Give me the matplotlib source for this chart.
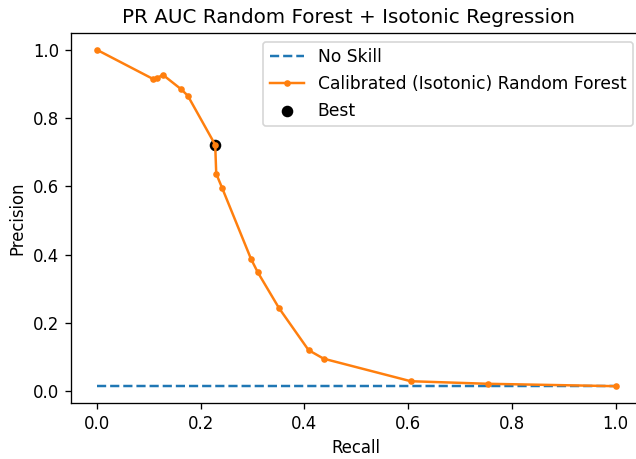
import matplotlib
matplotlib.use("Agg")
import matplotlib.pyplot as plt

recall = [0.0, 0.109, 0.116, 0.127, 0.162, 0.175, 0.228, 0.230, 0.241, 0.297, 0.310, 0.351, 0.408, 0.437, 0.605, 0.754, 1.0]
precision = [1.0, 0.914, 0.917, 0.927, 0.885, 0.866, 0.722, 0.637, 0.597, 0.388, 0.349, 0.244, 0.121, 0.096, 0.030, 0.0225, 0.0155]
no_skill = 0.0165
best_recall = [0.228]
best_precision = [0.722]

DPI = 119
fig = plt.figure(figsize=(636/DPI, 459/DPI), dpi=DPI)
ax = fig.add_axes([71/636, 1 - 403/459, (641.6-71)/636, 370/459])
ax.plot([0, 1], [no_skill, no_skill], linestyle='--', label='No Skill')
ax.plot(recall, precision, marker='.', label='Calibrated (Isotonic) Random Forest')
ax.scatter(best_recall, best_precision, marker='o', color='black', label='Best')
ax.set_xlabel('Recall')
ax.set_ylabel('Precision')
ax.set_title('PR AUC Random Forest + Isotonic Regression', x=0.486)
ax.legend(prop={'size': 10.35})
fig.savefig('out.png', dpi=DPI)
